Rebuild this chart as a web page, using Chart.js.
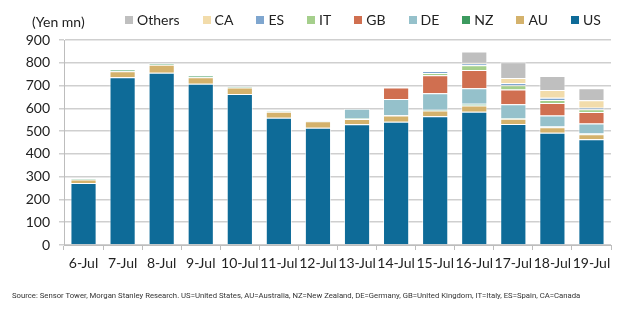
<!DOCTYPE html>
<html>
<head>
<meta charset="utf-8">
<script src="https://cdn.jsdelivr.net/npm/chart.js@4"></script>
<style>
  body { margin: 0; background: #fff; }
  #wrap { position: relative; width: 640px; height: 322px; font-family: Lato, sans-serif; color: #222; }
  #c { position: absolute; left: 0; top: 0; }
  #unit { position: absolute; left: 32px; top: 13px; font-size: 14px; }
  #legend { position: absolute; left: 125px; top: 11px; display: flex; gap: 23px; font-size: 14px; }
  .item { display: flex; align-items: center; }
  .box { width: 8px; height: 8px; margin-right: 4px; }
  #source { position: absolute; left: 12px; top: 291px; font-family: Roboto, sans-serif; font-size: 8px; color: #333; white-space: nowrap; transform-origin: left top; }
</style>
</head>
<body>
<div id="wrap">
  <canvas id="c" width="640" height="322"></canvas>
  <div id="unit">(Yen mn)</div>
  <div id="legend"></div>
  <div id="source">Source: Sensor Tower, Morgan Stanley Research. US=United States, AU=Australia, NZ=New Zealand, DE=Germany, GB=United Kingdom, IT=Italy, ES=Spain, CA=Canada</div>
</div>
<script>
const labels = ['6-Jul', '7-Jul', '8-Jul', '9-Jul', '10-Jul', '11-Jul', '12-Jul', '13-Jul', '14-Jul', '15-Jul', '16-Jul', '17-Jul', '18-Jul', '19-Jul'];

// values in yen mn, stacked bottom to top
const us     = [272, 736, 756, 708, 663, 559, 515, 530, 541, 565, 585, 531, 493, 464];
const au     = [16, 27, 35, 29, 29, 26, 28, 23, 27, 26, 27, 23, 24, 22];
const nz     = [3, 6, 6, 6, 3, 2, 3, 3, 2, 3, 8, 3, 3, 3];
const de     = [null, null, null, null, null, null, null, 42, 71, 72, 68, 61, 49, 44];
const gb     = [null, null, null, null, null, null, null, null, 50, 79, 80, 65, 54, 51];
const it     = [null, null, null, null, null, null, null, null, null, 10, 21, 18, 14, 12];
const es     = [null, null, null, null, null, null, null, null, null, 9, 8, 10, 10, 7];
const ca     = [null, null, null, null, null, null, null, null, null, null, 3, 22, 33, 32];
const others = [null, null, null, null, null, null, null, null, null, null, 50, 69, 62, 53];

const seriesNames = ['US', 'AU', 'NZ', 'DE', 'GB', 'IT', 'ES', 'CA', 'Others'];
const seriesData = [us, au, nz, de, gb, it, es, ca, others];
const seriesColors = ['#0e6b98', '#d4b26c', '#3c9a5f', '#95c1cb', '#d06f50', '#a5cf8c', '#7fa6cf', '#f2dcab', '#bfbfbf'];

const yTicks = { min: 0, max: 900, step: 100 };

const datasets = seriesNames.map((name, i) => ({
    label: name,
    data: seriesData[i],
    backgroundColor: seriesColors[i],
    borderColor: 'rgba(255, 255, 255, 0.6)',
    borderWidth: 1,
    barPercentage: 0.67,
    categoryPercentage: 1
}));

const chart = new Chart(document.getElementById('c'), {
    type: 'bar',
    data: { labels: labels, datasets: datasets },
    options: {
        responsive: false,
        animation: false,
        layout: { padding: { top: 40, right: 29, bottom: 0, left: 0 } },
        plugins: {
            legend: { display: false },
            tooltip: { enabled: false }
        },
        scales: {
            x: {
                stacked: true,
                grid: { drawOnChartArea: false, tickLength: 5, color: '#bdbdbd' },
                border: { color: '#bdbdbd' },
                ticks: { color: '#222', font: { family: 'Lato', size: 14 }, padding: 5, maxRotation: 0, autoSkip: false },
                afterFit: scale => { scale.height = 77; }
            },
            y: {
                stacked: true,
                min: yTicks.min,
                max: yTicks.max,
                grid: { color: '#cfcfcf', lineWidth: 1.5, tickLength: 5 },
                border: { color: '#bdbdbd' },
                ticks: { stepSize: yTicks.step, color: '#222', font: { family: 'Lato', size: 14 }, padding: 9 },
                afterFit: scale => { scale.width = 64; }
            }
        }
    }
});

// legend in the same order as the reference (top of stack first)
const legendEl = document.getElementById('legend');
chart.data.datasets.slice().reverse().forEach(ds => {
    const item = document.createElement('div');
    item.className = 'item';
    item.innerHTML = '<span class="box" style="background:' + ds.backgroundColor + '"></span>' + ds.label;
    legendEl.appendChild(item);
});

// squeeze the source line to the reference width
const src = document.getElementById('source');
src.style.transform = 'scaleX(' + (568 / src.offsetWidth) + ')';
</script>
</body>
</html>
